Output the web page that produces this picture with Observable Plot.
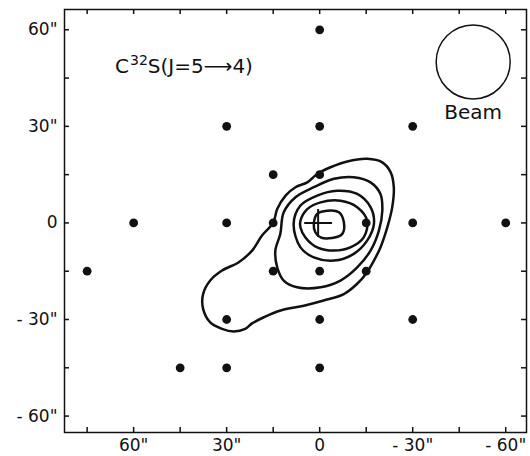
<!DOCTYPE html>
<html><head><meta charset="utf-8">
<script src="https://cdn.jsdelivr.net/npm/d3@7"></script>
<script src="https://cdn.jsdelivr.net/npm/@observablehq/plot@0.6"></script>
<style>body{margin:0;background:#fff}</style>
</head><body><div id="chart"></div>
<script>
// Axis ticks (arcsec offsets)
const xTickValues = [75, 60, 45, 30, 15, 0, -15, -30, -45, -60];
const yTickValues = [60, 45, 30, 15, 0, -15, -30, -45, -60];
const xLabelValues = [60, 30, 0, -30, -60];
const yLabelValues = [60, 30, 0, -30, -60];

// Observed positions (dx, dy in arcsec)
const pointDx = [0, 30, 0, -30, 15, 0, 60, 30, 15, -15, -30, -60, 75, 15, 0, -15, 30, 0, -30, 45, 30, 0];
const pointDy = [60, 30, 30, 30, 15, 15, 0, 0, 0, 0, 0, 0, -15, -15, -15, -15, -30, -30, -30, -45, -45, -45];

// Contours (dx, dy in arcsec), outermost first
const contour1 = [[15,0],[13.7,4.3],[11.0,8.5],[7.8,11.1],[4.0,12.6],[0.8,15.2],[-3.5,17.3],[-8.9,19.1],[-15.3,19.9],[-20.2,18.8],[-22.9,15.7],[-23.9,11.1],[-23.4,4.9],[-21.8,-1.4],[-19.6,-7.6],[-17.5,-11.7],[-15.3,-15.3],[-12.1,-18.9],[-7.8,-22.1],[-1.3,-24.1],[5.1,-25.7],[12.6,-27.2],[18.0,-29.3],[21.8,-31.2],[24.0,-32.9],[27.7,-33.7],[31.5,-32.9],[35.3,-30.9],[37.6,-26.7],[37.6,-22.1],[35.3,-17.9],[31.5,-14.8],[26.1,-12.2],[21.8,-8.6],[18.6,-3.9]];
const contour2 = [[12.7,-3.4],[11.6,3.3],[7.8,8.0],[1.9,11.1],[-4.6,13.7],[-11.0,14.2],[-16.4,12.6],[-19.6,9.0],[-20.2,3.8],[-19.1,-2.4],[-16.4,-8.6],[-12.1,-13.8],[-6.7,-17.9],[-0.3,-20.0],[7.3,-20.0],[11.6,-17.9],[13.7,-13.8],[14.3,-8.6]];
const contour3 = [[8.4,-0.3],[6.2,5.4],[0.8,8.5],[-5.6,10.0],[-12.1,9.0],[-16.4,4.9],[-17.5,-0.3],[-15.3,-5.5],[-11.0,-9.6],[-4.6,-11.7],[1.9,-10.7],[6.2,-7.6]];
const contour4 = [[6.2,0.7],[4.0,4.3],[-0.3,6.4],[-6.7,6.9],[-12.1,4.9],[-15.3,0.7],[-14.2,-4.5],[-9.9,-7.6],[-4.6,-8.6],[0.8,-7.6],[4.6,-4.5],[6.2,-1.4]];
const contour5 = [[1.9,-0.3],[0.8,2.8],[-2.4,3.8],[-6.2,3.3],[-7.8,0.2],[-7.3,-3.4],[-4.0,-4.7],[-0.3,-4.5],[1.4,-2.9]];

// Title pieces: base, superscript, rest
const titleBase = "C";
const titleSup = "32";
const titleRest = "S(J=5\u27f64)";
const beamText = "Beam";

const points = pointDx.map((x, i) => ({x, y: pointDy[i]}));
const contours = [contour1, contour2, contour3, contour4, contour5]
  .flatMap((c, level) => c.map(([x, y]) => ({x, y, level})));

const fmt = v => v === 0 ? "0" : v < 0 ? `- ${-v}"` : `${v}"`;
const W = 530, H = 456, mL = 64, mR = 4, mT = 9, mB = 24;
const fw = W - mL - mR, fh = H - mT - mB, tl = 5;
const titleFull = titleBase + titleSup + titleRest;

const chart = Plot.plot({
  width: W, height: H,
  marginLeft: mL, marginRight: mR, marginTop: mT, marginBottom: mB,
  style: {fontFamily: "DejaVu Sans", fontSize: "17px", color: "#111", background: "#fff"},
  x: {domain: [82.3, -66.7], axis: null},
  y: {domain: [-65.1, 66.3], axis: null},
  marks: [
    Plot.frame({stroke: "#111", strokeWidth: 1.5}),
    Plot.tickX(xTickValues, {x: d => d, insetTop: fh - tl, stroke: "#111", strokeWidth: 1.5}),
    Plot.tickX(xTickValues, {x: d => d, insetBottom: fh - tl, stroke: "#111", strokeWidth: 1.5}),
    Plot.tickY(yTickValues, {y: d => d, insetRight: fw - tl, stroke: "#111", strokeWidth: 1.5}),
    Plot.tickY(yTickValues, {y: d => d, insetLeft: fw - tl, stroke: "#111", strokeWidth: 1.5}),
    Plot.axisX(xLabelValues, {anchor: "bottom", tickSize: 0, tickPadding: 6, tickFormat: fmt, fontSize: 17, label: null}),
    Plot.axisY(yLabelValues, {anchor: "left", tickSize: 0, tickPadding: 7, tickFormat: fmt, fontSize: 17, label: null}),
    Plot.line(contours, {x: "x", y: "y", z: "level", curve: "catmull-rom-closed", stroke: "#111", strokeWidth: 2.5}),
    Plot.dot(points, {x: "x", y: "y", r: 4.4, fill: "#111", stroke: "none"}),
    Plot.dot([{x: 0.5, y: 0}], {x: "x", y: "y", symbol: "plus", r: 9, stroke: "#111", strokeWidth: 2}),
    Plot.dot([{x: -49.5, y: 50}], {x: "x", y: "y", r: 37, fill: "none", stroke: "#111", strokeWidth: 1.5}),
    Plot.text([beamText], {x: -49.5, y: 34.3, text: d => d, fontSize: 20, fill: "#111"}),
    Plot.text([titleFull], {x: 66, y: 48.5, text: d => d, fontSize: 20, textAnchor: "start", fill: "#111"})
  ]
});
// render superscript as a raised, smaller tspan
const ns = "http://www.w3.org/2000/svg";
const tEl = [...chart.querySelectorAll("text")].find(el => el.textContent === titleFull);
if (tEl) {
  tEl.textContent = "";
  const a = document.createElementNS(ns, "tspan"); a.textContent = titleBase;
  const b = document.createElementNS(ns, "tspan"); b.textContent = titleSup;
  b.setAttribute("font-size", "14"); b.setAttribute("dy", "-8"); b.setAttribute("dx", "1");
  const c = document.createElementNS(ns, "tspan"); c.textContent = titleRest;
  c.setAttribute("dy", "8");
  tEl.append(a, b, c);
}
document.getElementById("chart").appendChild(chart);
</script>
</body></html>
